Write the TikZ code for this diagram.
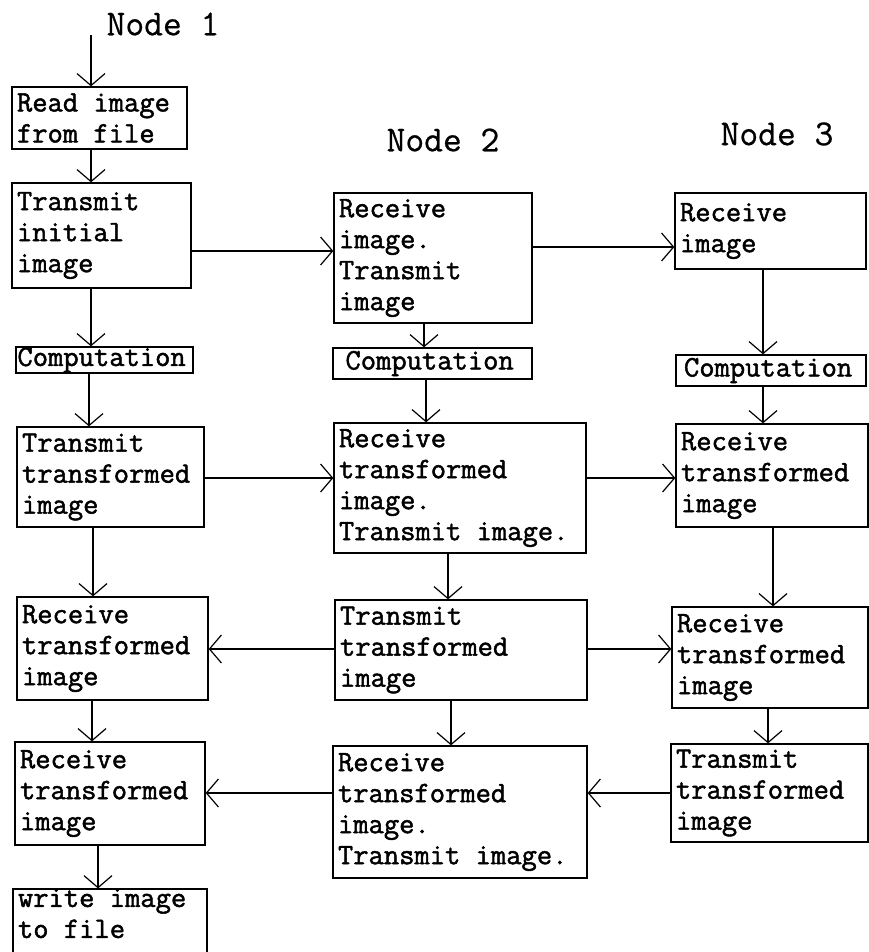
\documentclass[tikz,border=0pt]{standalone}
\usepackage{fontspec}
\setmonofont{Latin Modern Mono}[FakeBold=1.6]
\newfontfamily\lblfont{Latin Modern Mono}[FakeBold=0.6]
\usetikzlibrary{arrows.meta}
\newcommand{\mybox}[7][]{%
  \pgfmathsetmacro\myW{#5-#3}%
  \pgfmathsetmacro\myH{#6-#4}%
  \pgfmathsetmacro\myT{#5-#3-10}%
  \pgfmathsetmacro\myX{(#3+#5)/2}%
  \pgfmathsetmacro\myY{(#4+#6)/2}%
  \node[box, minimum width=\myW bp, minimum height=\myH bp, text width=\myT bp, #1] (#2) at (\myX,\myY) {#7};}
\begin{document}
\begin{tikzpicture}[x=1bp,y=-1bp,
  box/.style={draw, rectangle, line width=1.3bp, inner sep=0pt, align=flush left,
    font=\ttfamily\fontsize{29.7bp}{31bp}\selectfont,
    execute at begin node={\spaceskip=0pt\xspaceskip=0pt\relax}},
  lbl/.style={inner sep=0pt, font=\lblfont\fontsize{36.5bp}{40bp}\selectfont},
  arr/.style={line width=1.2bp, -{Straight Barb[length=12bp,width=28bp]}}]
\useasboundingbox (0,0) rectangle (869,952);
\clip (0,0) rectangle (869,952);
\fill[white] (0,0) rectangle (869,952);

% column labels
\node[lbl] (n1) at (163,24) {Node 1};
\node[lbl] (n2) at (443,140) {Node 2};
\node[lbl] (n3) at (777,134) {Node 3};

% column 1
\mybox{read}{12}{87}{187}{149}{Read image\\from file}
\mybox{tin}{12}{183}{191}{288}{Transmit\\initial\\image}
\mybox[text width=174bp]{comp1}{16}{347}{193}{373}{Computation}
\mybox{ttr1}{17}{427}{204}{527}{Transmit\\transformed\\image}
\mybox{rtr1}{17}{597}{208}{700}{Receive\\transformed\\image}
\mybox{rtr1b}{15}{742}{205}{845}{Receive\\transformed\\image}
\mybox[text depth=56bp]{write}{13}{890}{207}{962}{write image\\to file}

% column 2
\mybox{ri2}{334}{193}{532}{323}{Receive\\image.\\Transmit\\image}
\mybox[text width=174bp]{comp2}{333}{348}{532}{379}{Computation}
\mybox{rt2}{334}{423}{586}{553}{Receive\\transformed\\image.\\Transmit image.}
\mybox{tt2}{335}{600}{587}{700}{Transmit\\transformed\\image}
\mybox{rtt2}{333}{746}{587}{878}{Receive\\transformed\\image.\\Transmit image.}

% column 3
\mybox{ri3}{675}{193}{866}{269}{Receive\\image}
\mybox[text width=174bp]{comp3}{676}{355}{866}{386}{Computation}
\mybox{rt3}{676}{424}{868}{527}{Receive\\transformed\\image}
\mybox{rr3}{672}{607}{868}{708}{Receive\\transformed\\image}
\mybox{tt3}{671}{744}{868}{842}{Transmit\\transformed\\image}

% helper coordinates
\coordinate (e0) at (91,35);
\coordinate (va) at (91,0);
\coordinate (vb) at (89,0);
\coordinate (vc) at (93,0);
\coordinate (vd) at (92,0);
\coordinate (ve) at (98,0);
\coordinate (vf) at (424,0);
\coordinate (vg) at (426,0);
\coordinate (vh) at (448,0);
\coordinate (vi) at (451,0);
\coordinate (vj) at (763,0);
\coordinate (vk) at (773,0);
\coordinate (vl) at (768,0);
\coordinate (ha) at (0,251);
\coordinate (hb) at (0,247);
\coordinate (hc) at (0,478);
\coordinate (hd) at (0,649);
\coordinate (he) at (0,793);

% vertical connectors
\draw[arr] (e0) -- (e0 |- read.north);
\draw[arr] (read.south -| va) -- (tin.north -| va);
\draw[arr] (tin.south -| va) -- (comp1.north -| va);
\draw[arr] (comp1.south -| vb) -- (ttr1.north -| vb);
\draw[arr] (ttr1.south -| vc) -- (rtr1.north -| vc);
\draw[arr] (rtr1.south -| vd) -- (rtr1b.north -| vd);
\draw[arr] (rtr1b.south -| ve) -- (write.north -| ve);
\draw[arr] (ri2.south -| vf) -- (comp2.north -| vf);
\draw[arr] (comp2.south -| vg) -- (rt2.north -| vg);
\draw[arr] (rt2.south -| vh) -- (tt2.north -| vh);
\draw[arr] (tt2.south -| vi) -- (rtt2.north -| vi);
\draw[arr] (ri3.south -| vj) -- (comp3.north -| vj);
\draw[arr] (comp3.south -| vj) -- (rt3.north -| vj);
\draw[arr] (rt3.south -| vk) -- (rr3.north -| vk);
\draw[arr] (rr3.south -| vl) -- (tt3.north -| vl);

% horizontal connectors
\draw[arr] (tin.east |- ha) -- (ri2.west |- ha);
\draw[arr] (ri2.east |- hb) -- (ri3.west |- hb);
\draw[arr] (ttr1.east |- hc) -- (rt2.west |- hc);
\draw[arr] (rt2.east |- hc) -- (rt3.west |- hc);
\draw[arr] (tt2.west |- hd) -- (rtr1.east |- hd);
\draw[arr] (tt2.east |- hd) -- (rr3.west |- hd);
\draw[arr] (rtt2.west |- he) -- (rtr1b.east |- he);
\draw[arr] (tt3.west |- he) -- (rtt2.east |- he);
\end{tikzpicture}
\end{document}
